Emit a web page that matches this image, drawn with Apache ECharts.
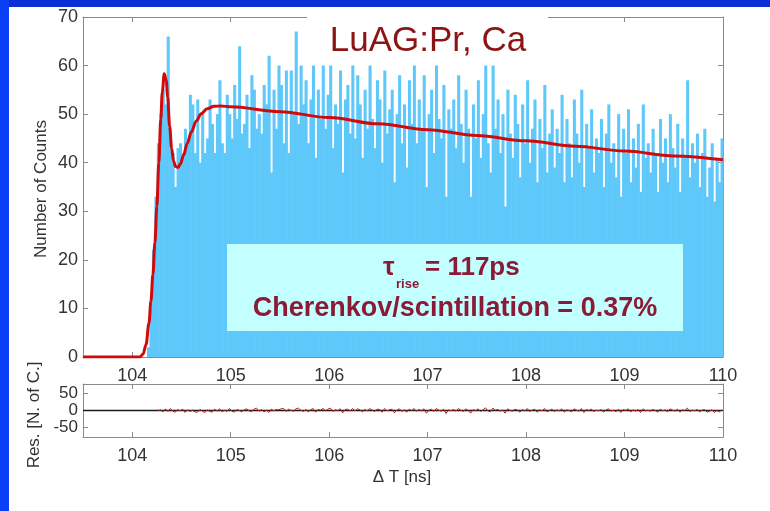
<!DOCTYPE html>
<html>
<head>
<meta charset="utf-8">
<script src="https://cdn.jsdelivr.net/npm/echarts@6/dist/echarts.min.js"></script>
<style>html,body{margin:0;padding:0;background:#fff;}#c{width:770px;height:511px;}</style>
</head>
<body>
<div id="c"></div>
<script>
// ---- data ----
const binStart = 103.5;
const binWidth = 0.025;
const counts = [
0,0,0,0,0,0,0,0,0,0,0,0,0,0,0,0,0,0,0,0,0,0,0,0,0,0,
2,10,22,33,44,50,55,52,66,45,
42,35,43,44,42,47,45,54,52,42,
53,40,50,42,45,53,48,42,50,57,
44,42,54,50,45,56,49,64,46,48,
54,43,58,55,47,50,46,56,52,62,
38,55,47,60,56,44,59,42,59,50,
67,48,60,52,
57,44,53,60,41,55,49,60,47,54,60,43,52,48,59,38,53,56,46,60,
45,58,52,41,55,47,60,49,43,57,53,40,59,46,51,55,36,50,58,44,
52,39,57,48,60,44,53,47,58,35,50,55,42,60,49,45,56,33,51,47,
53,43,58,48,40,55,47,33,52,45,57,41,50,60,44,38,60,47,53,42,
50,31,55,46,41,54,48,37,52,44,57,40,47,53,36,49,43,56,38,46,
51,39,47,42,54,36,49,44,37,53,46,40,55,35,48,43,51,38,45,42,
49,35,46,52,40,44,37,50,33,47,42,51,36,45,39,48,34,52,41,44,
38,47,42,34,49,40,45,36,50,43,39,48,34,45,41,57,37,44,40,46,
35,42,47,33,39,44,32,41,36,45
];
const fitX = [103.5,104.08,104.11,104.14,104.17,104.19,104.21,104.23,104.25,104.27,104.29,104.305,104.325,104.345,104.36,104.38,104.40,104.42,104.44,104.465,104.49,104.52,104.56,104.60,104.65,104.70,104.76,104.83,104.90,105.0,105.5,106.0,106.5,107.0,107.5,108.0,108.5,109.0,109.5,110.0];
const fitY = [0,0,0.6,2.5,7,11.5,17,23.5,31,40,49,54.5,58.3,57,53.5,47.5,43,40.3,39.2,39,39.8,41.5,44,46.3,48.6,50.1,51.1,51.6,51.7,51.5,50.5,49.3,48.0,46.8,45.6,44.5,43.4,42.4,41.4,40.6];
const residStartBin = 30;
const resid = [
0,2,-4,5,-3,6,-2,-5,3,-1,4,-6,2,-3,1,-4,-5,3,-2,-6,
2,-3,-5,4,-2,5,-4,1,-3,6,-2,-5,3,0,-4,2,5,-1,-3,4,
7,-2,3,-4,1,-6,4,-1,3,2,5,6,-3,4,0,-2,5,7,1,-3,
3,-4,2,6,-5,3,1,6,-1,4,7,-3,2,0,5,-7,3,4,-2,6,
-1,5,2,-4,3,-1,6,1,-3,4,3,-5,6,-1,2,4,-7,1,5,-3,
2,-5,4,0,6,-2,3,-1,5,-8,1,4,-3,6,1,-2,4,-9,2,-1,
3,-2,6,1,-3,5,0,-8,3,-1,5,-3,2,8,-1,-4,7,1,3,-2,
2,-8,5,0,-2,4,1,-5,3,-1,6,-3,1,4,-5,2,-1,6,-4,0,
4,-3,2,-1,5,-5,2,0,-4,5,1,-2,6,-6,3,0,4,-3,1,-1,
3,-5,2,5,-2,1,-4,4,-6,3,0,5,-4,2,-2,3,-6,5,-1,1,
-2,3,0,-5,4,-1,2,-4,5,1,-2,4,-5,2,0,7,-3,1,-1,3,
-4,1,3,-5,-2,2,-6,0,-4,2
];
const xTicks = [104,105,106,107,108,109,110];
const yTicks = [0,10,20,30,40,50,60,70];
const resTicks = [-50,0,50];
const xMin = 103.5, xMax = 110;

// ---- build ----
const barData = counts.map((c, i) => [binStart + i * binWidth, binStart + (i + 1) * binWidth, c]);
const fitData = fitX.map((x, i) => [x, fitY[i]]);
const residData = resid.map((r, i) => [binStart + (residStartBin + i + 0.5) * binWidth, r]);
const zeroData = [[xMin, 0], [xMax, 0]];

const axisCol = '#8a8a8a';
const labCol = '#333';
const font = 'Liberation Sans, Arial, sans-serif';

function xAx(grid, pos, labels) {
  return {
    type: 'value', gridIndex: grid, position: pos, min: xMin, max: xMax,
    axisLine: { show: true, onZero: false, lineStyle: { color: axisCol, width: 1 } },
    axisTick: { show: true, inside: true, length: 5, customValues: xTicks, lineStyle: { color: axisCol } },
    axisLabel: { show: labels, customValues: xTicks, fontSize: 18, color: labCol, fontFamily: font, margin: 10 },
    splitLine: { show: false }
  };
}
function yAx(grid, pos, labels, mn, mx, ticks, fs) {
  return {
    type: 'value', gridIndex: grid, position: pos, min: mn, max: mx,
    axisLine: { show: true, onZero: false, lineStyle: { color: axisCol, width: 1 } },
    axisTick: { show: true, inside: true, length: 5, customValues: ticks, lineStyle: { color: axisCol } },
    axisLabel: { show: labels, customValues: ticks, fontSize: fs, lineHeight: fs, color: labCol, fontFamily: font, margin: 5,
                 hideOverlap: false, showMinLabel: true, showMaxLabel: true },
    splitLine: { show: false }
  };
}

const chart = echarts.init(document.getElementById('c'), null, { renderer: 'canvas' });
chart.setOption({
  backgroundColor: '#ffffff',
  animation: false,
  grid: [
    { left: 83, top: 17, width: 640, height: 340 },
    { left: 83, top: 384, width: 640, height: 53 }
  ],
  xAxis: [xAx(0, 'bottom', true), xAx(0, 'top', false), xAx(1, 'bottom', true), xAx(1, 'top', false)],
  yAxis: [yAx(0, 'left', true, 0, 70, yTicks, 18), yAx(0, 'right', false, 0, 70, yTicks, 18),
          yAx(1, 'left', true, -78, 78, resTicks, 17), yAx(1, 'right', false, -78, 78, resTicks, 17)],
  series: [
    {
      type: 'custom', xAxisIndex: 0, yAxisIndex: 0, data: barData, z: 2,
      renderItem: function (params, api) {
        const p0 = api.coord([api.value(0), api.value(2)]);
        const p1 = api.coord([api.value(1), 0]);
        return { type: 'rect', shape: { x: p0[0], y: p0[1], width: p1[0] - p0[0] + 0.6, height: p1[1] - p0[1] },
                 style: { fill: '#5fc8fa' } };
      }
    },
    {
      type: 'line', xAxisIndex: 0, yAxisIndex: 0, data: fitData, z: 5,
      smooth: 0.35, smoothMonotone: 'x', showSymbol: false, symbol: 'none',
      lineStyle: { color: '#d00a0a', width: 3 }
    },
    {
      type: 'line', xAxisIndex: 2, yAxisIndex: 2, data: zeroData, z: 4, symbol: 'none',
      lineStyle: { color: '#1a1a1a', width: 1.5 }
    },
    {
      type: 'line', xAxisIndex: 2, yAxisIndex: 2, data: residData, z: 5, symbol: 'none',
      lineStyle: { color: '#b52222', width: 1 }
    }
  ],
  graphic: [
    { type: 'rect', shape: { x: 0, y: 0, width: 770, height: 7 }, style: { fill: '#0b2fd6' }, z: 50 },
    { type: 'rect', shape: { x: 0, y: 0, width: 9, height: 511 }, style: { fill: '#0a40f5' }, z: 50 },
    { type: 'rect', shape: { x: 307, y: 7, width: 241, height: 55 }, style: { fill: '#ffffff' }, z: 40 },
    { type: 'text', z: 41, style: { text: 'LuAG:Pr, Ca', x: 428, y: 41, align: 'center', verticalAlign: 'middle',
        font: '35px Liberation Sans, Arial, sans-serif', fill: '#8b1414' } },
    { type: 'rect', shape: { x: 227, y: 244, width: 456, height: 87 }, style: { fill: '#c4ffff' }, z: 40 },
    { type: 'text', z: 41, style: { text: 'τ', x: 383, y: 268, align: 'left', verticalAlign: 'middle',
        font: 'bold 26px Liberation Sans, Arial, sans-serif', fill: '#8b1a36' } },
    { type: 'text', z: 41, style: { text: 'rise', x: 396, y: 284, align: 'left', verticalAlign: 'middle',
        font: 'bold 13px Liberation Sans, Arial, sans-serif', fill: '#8b1a36' } },
    { type: 'text', z: 41, style: { text: '= 117ps', x: 425, y: 268, align: 'left', verticalAlign: 'middle',
        font: 'bold 26px Liberation Sans, Arial, sans-serif', fill: '#8b1a36' } },
    { type: 'text', z: 41, style: { text: 'Cherenkov/scintillation = 0.37%', x: 455, y: 309, align: 'center', verticalAlign: 'middle',
        font: 'bold 27px Liberation Sans, Arial, sans-serif', fill: '#8b1a36' } },
    { type: 'text', z: 41, rotation: Math.PI / 2, x: 41, y: 189, style: { text: 'Number of Counts', x: 0, y: 0, align: 'center', verticalAlign: 'middle',
        font: '17px Liberation Sans, Arial, sans-serif', fill: '#333' } },
    { type: 'text', z: 41, rotation: Math.PI / 2, x: 34, y: 415, style: { text: 'Res. [N. of C.]', x: 0, y: 0, align: 'center', verticalAlign: 'middle',
        font: '17px Liberation Sans, Arial, sans-serif', fill: '#333' } },
    { type: 'text', z: 41, style: { text: 'Δ T [ns]', x: 402, y: 477, align: 'center', verticalAlign: 'middle',
        font: '17px Liberation Sans, Arial, sans-serif', fill: '#333' } }
  ]
});
</script>
</body>
</html>
